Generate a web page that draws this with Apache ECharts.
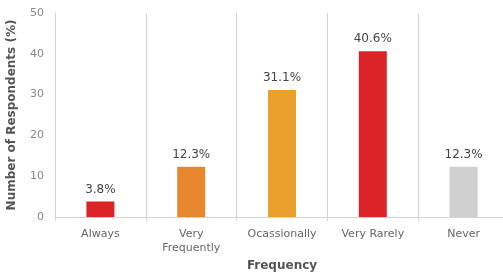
<!DOCTYPE html>
<html>
<head>
<meta charset="utf-8">
<script src="https://cdn.jsdelivr.net/npm/echarts@6/dist/echarts.min.js"></script>
<style>html,body{margin:0;padding:0;background:#fff}#c{width:503px;height:273px}</style>
</head>
<body>
<div id="c"></div>
<script>
const categories = ['Always', 'Very\nFrequently', 'Ocassionally', 'Very Rarely', 'Never'];
const values = [3.8, 12.3, 31.1, 40.6, 12.3];
const barColors = ['#DC2428', '#E8872E', '#EBA02E', '#DC2428', '#D0D0D0'];
const yTicks = [0, 10, 20, 30, 40, 50];

const font = 'DejaVu Sans';
const chart = echarts.init(document.getElementById('c'), null, {renderer: 'canvas'});
chart.setOption({
  animation: false,
  textStyle: {fontFamily: font},
  grid: {left: 55, right: -6, top: 13, bottom: 56, containLabel: false, outerBoundsMode: 'none'},
  xAxis: {
    type: 'category',
    data: categories,
    name: 'Frequency',
    nameLocation: 'middle',
    nameGap: 42,
    nameTextStyle: {fontFamily: font, fontWeight: 'bold', fontSize: 12, color: '#555'},
    axisLine: {show: true, lineStyle: {color: '#d4d4d4', width: 1}},
    axisTick: {show: true, interval: 0, length: 4, lineStyle: {color: '#d4d4d4'}},
    splitLine: {show: true, interval: 0, lineStyle: {color: '#d4d4d4', width: 1}},
    axisLabel: {interval: 0, fontFamily: font, fontSize: 11, color: '#666', margin: 10, lineHeight: 14}
  },
  yAxis: {
    type: 'value',
    min: yTicks[0],
    max: yTicks[yTicks.length - 1],
    interval: 10,
    name: 'Number of Respondents (%)',
    nameLocation: 'middle',
    nameGap: 37,
    nameTextStyle: {fontFamily: font, fontWeight: 'bold', fontSize: 12, color: '#555'},
    axisLine: {show: true, lineStyle: {color: '#d4d4d4', width: 1}},
    axisTick: {show: false},
    splitLine: {show: false},
    axisLabel: {fontFamily: font, fontSize: 11, color: '#888', margin: 11}
  },
  series: [{
    type: 'bar',
    data: values.map((v, i) => ({value: v, itemStyle: {color: barColors[i]}})),
    barWidth: 28,
    label: {
      show: true,
      position: 'top',
      distance: 6,
      formatter: p => p.value.toFixed(1) + '%',
      fontFamily: font,
      fontSize: 12,
      color: '#444'
    }
  }]
});
</script>
</body>
</html>
